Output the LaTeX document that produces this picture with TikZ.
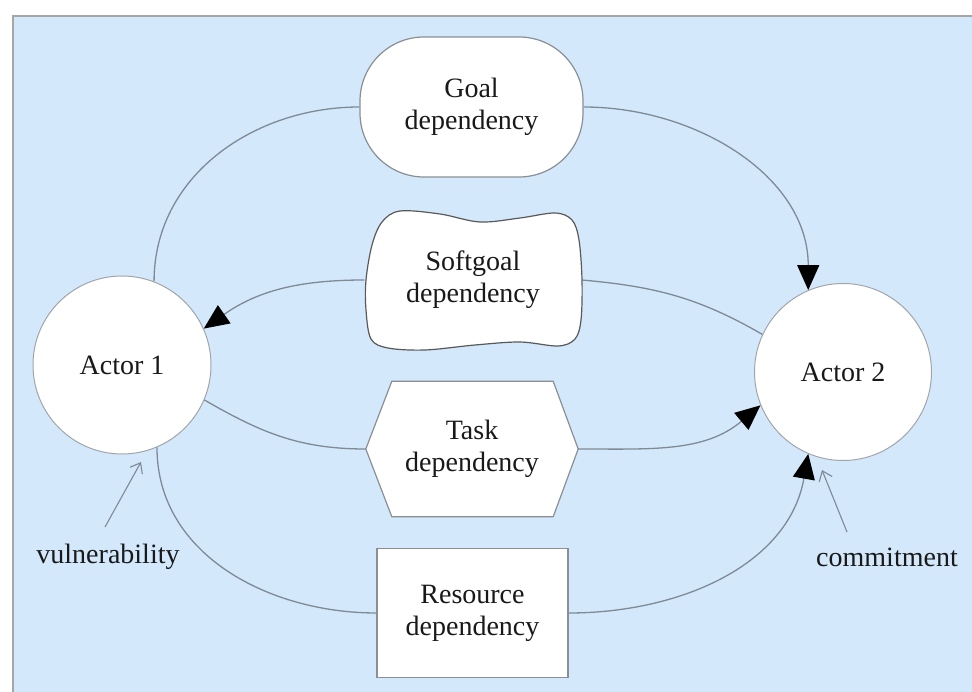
\documentclass[tikz,border=0pt]{standalone}
\usepackage{fontspec}
\setmainfont{Liberation Serif}
\usetikzlibrary{arrows.meta,calc}
\definecolor{panel}{HTML}{D4E8FB}
\definecolor{wire}{HTML}{7E8A96}
\definecolor{rim}{HTML}{8A8F95}
\pgfdeclarelayer{backdrop}
\pgfdeclarelayer{shapes}
\pgfsetlayers{backdrop,shapes,main}

\begin{document}
\begin{tikzpicture}[x=1pt,y=1pt,
  lbl/.style={font=\fontsize{28}{32}\selectfont, text=black!90, align=center},
  actor/.style={lbl, circle, draw=rim!80, line width=1pt, fill=white,
    minimum size=178pt, inner sep=0pt},
  depbox/.style={lbl, draw=rim, line width=1.2pt, fill=white, inner sep=0pt},
  ghost/.style={lbl, inner sep=0pt},
  outline/.style={draw=rim, line width=1.2pt, fill=white},
  wireline/.style={draw=wire, line width=1.3pt},
  dep/.style={wireline, -{Triangle[length=25pt,width=22pt,color=black]}},
  pointer/.style={draw=wire, line width=1.1pt, -{Straight Barb[length=9pt,width=14pt]}}
]

\useasboundingbox (0,0) rectangle (972,691);
\begin{pgfonlayer}{backdrop}
  \fill[white] (0,0) rectangle (972,691);
  \draw[fill=panel, draw=gray!70, line width=1.5pt] (13,-10) rectangle (985,675);
\end{pgfonlayer}

% actors
\node[actor] (a1) at (122,326) {Actor 1};
\node[actor, minimum size=177pt] (a2) at (843,319) {Actor 2};

% dependencies
\node[depbox, rectangle, rounded corners=64pt, minimum width=223pt,
      minimum height=140pt] (goal) at (471.5,584) {Goal\\dependency};
\node[ghost, minimum width=217pt, minimum height=137pt] (soft) at (473,411)
      {Softgoal\\dependency};
\node[ghost, minimum width=212pt, minimum height=135pt] (task) at (472,242)
      {Task\\dependency};
\node[depbox, rectangle, minimum width=191pt, minimum height=129pt] (res)
      at (472.5,78) {Resource\\dependency};

\begin{pgfonlayer}{shapes}
  % softgoal cloud
  \draw[draw=black!65, line width=1.2pt, fill=white]
    plot[smooth cycle, tension=0.55] coordinates {
      (372,446) (382,469) (400,480) (440,477) (480,469) (520,473)
      (555,478) (572,471) (579,451) (582,411) (581,371) (575,352)
      (558,345) (520,349) (475,346) (425,341) (388,343) (371,352)
      (366,381) (366,411)};
  % task hexagon
  \draw[outline] (task.west) -- ([xshift=26pt]task.north west)
    -- ([xshift=-25pt]task.north east) -- (task.east)
    -- ([xshift=-25pt]task.south east) -- ([xshift=26pt]task.south west)
    -- cycle;
\end{pgfonlayer}

% connectors
\draw[wireline] (a1.69) to[out=90,in=180] (goal.west);
\draw[dep] (goal.east) to[out=0,in=90] (a2.113);
\draw[wireline] (a2.155) to[out=150,in=-5] (soft.east);
\draw[dep] (soft.west) to[out=180,in=35] (a1.24);
\draw[wireline] (a1.-23) to[out=-30,in=180] (task.west);
\draw[dep] (task.east) to[out=0,in=220] (a2.202);
\draw[wireline] (a1.-67) to[out=-90,in=180] (res.west);
\draw[dep] (res.east) to[out=0,in=-100] (a2.247);

% annotations
\node[lbl] (vul) at (108,134) {vulnerability};
\node[lbl] (com) at (887,134) {commitment};
\coordinate (vtail) at (105,164);
\coordinate (vtip) at (141,229);
\coordinate (ctail) at (847,159);
\coordinate (ctip) at (822,221);
\draw[pointer] (vtail) -- (vtip);
\draw[pointer] (ctail) -- (ctip);
\end{tikzpicture}
\end{document}
